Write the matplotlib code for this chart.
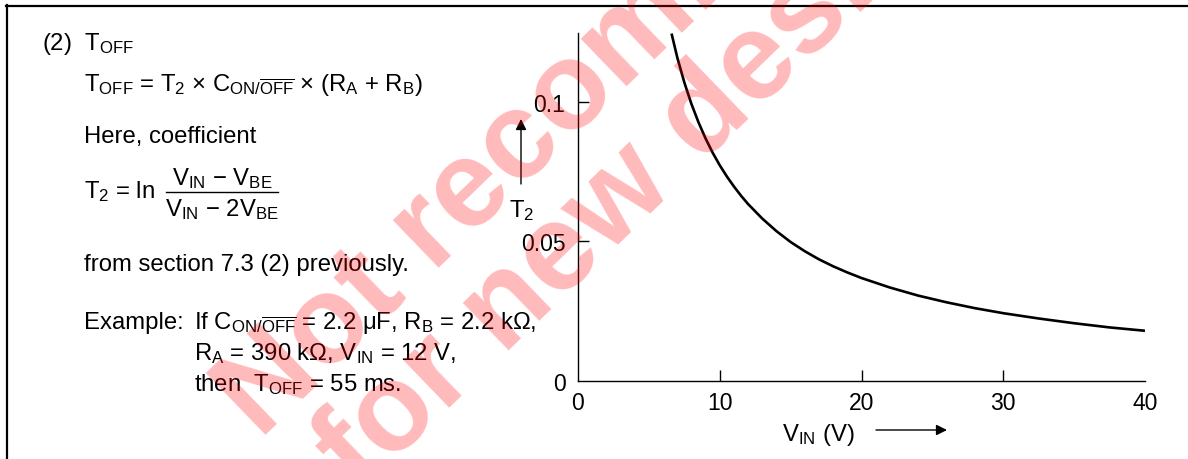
import matplotlib
matplotlib.use('Agg')
from matplotlib import pyplot as plt
from matplotlib.lines import Line2D

plt.rcParams['font.family'] = ['Liberation Sans', 'DejaVu Sans']
plt.rcParams['mathtext.fontset'] = 'custom'
plt.rcParams['mathtext.rm'] = 'Liberation Sans'
plt.rcParams['mathtext.it'] = 'Liberation Sans:italic'
plt.rcParams['mathtext.bf'] = 'Liberation Sans:bold'

# T2 coefficient
v_in = [6.6, 7.0, 7.5, 8.0, 8.5, 9.0, 9.5, 10.0, 10.5, 11.0, 11.5, 12.0, 13.0,
        14.0, 15.0, 16.0, 17.0, 18.0, 19.0, 20.0, 22.0, 24.0, 26.0, 28.0, 30.0,
        32.5, 35.0, 37.5, 40.0]
t2 = [0.1245, 0.1160, 0.1070, 0.0993, 0.0927, 0.0869, 0.0818, 0.0773, 0.0733,
      0.0697, 0.0664, 0.0634, 0.0582, 0.0537, 0.0498, 0.0465, 0.0436, 0.0411,
      0.0389, 0.0369, 0.0335, 0.0306, 0.0282, 0.0261, 0.0243, 0.0224, 0.0207,
      0.0192, 0.0180]

x_ticks = [0, 10, 20, 30, 40]
x_ticklabels = ['0', '10', '20', '30', '40']
y_ticks = [0, 0.05, 0.1]
y_ticklabels = ['0', '0.05', '0.1']

W, H = 1188, 460
FS = 17.2


def fx(px):
    return px / W


def fy(py):
    return 1 - py / H


fig = plt.figure(figsize=(W / 100, H / 100), dpi=100)

# frame of the page
fig.add_artist(Line2D([fx(6), fx(W)], [fy(7), fy(7)], color='black', lw=1.6))
fig.add_artist(Line2D([fx(7), fx(7)], [fy(6), fy(H)], color='black', lw=1.6))

# left hand text
fig.text(fx(42), fy(50), r'(2)  T$_{\mathrm{OFF}}$', fontsize=FS, va='baseline')
fig.text(fx(84), fy(91),
         r'T$_{\mathrm{OFF}}$ = T$_{\mathrm{2}}$ × C$_{\mathrm{ON/}\overline{\mathrm{OFF}}}$'
         r' × (R$_{\mathrm{A}}$ + R$_{\mathrm{B}}$)', fontsize=FS, va='baseline')
fig.text(fx(84), fy(143), 'Here, coefficient', fontsize=FS, va='baseline')
fig.text(fx(84), fy(198), r'T$_{\mathrm{2}}$ = ln', fontsize=FS, va='baseline')
fig.text(fx(222), fy(185), r'V$_{\mathrm{IN}}$ − V$_{\mathrm{BE}}$', fontsize=FS,
         va='baseline', ha='center')
fig.add_artist(Line2D([fx(166), fx(278)], [fy(193), fy(193)], color='black', lw=1.0))
fig.text(fx(222), fy(216), r'V$_{\mathrm{IN}}$ − 2V$_{\mathrm{BE}}$', fontsize=FS,
         va='baseline', ha='center')
fig.text(fx(84), fy(271), 'from section 7.3 (2) previously.', fontsize=FS, va='baseline')
fig.text(fx(84), fy(329), 'Example:', fontsize=FS, va='baseline')
fig.text(fx(194), fy(329),
         r'If C$_{\mathrm{ON/}\overline{\mathrm{OFF}}}$ = 2.2 μF, R$_{\mathrm{B}}$ = 2.2 kΩ,',
         fontsize=FS, va='baseline')
fig.text(fx(194), fy(360), r'R$_{\mathrm{A}}$ = 390 kΩ, V$_{\mathrm{IN}}$ = 12 V,',
         fontsize=FS, va='baseline')
fig.text(fx(194), fy(391), r'then  T$_{\mathrm{OFF}}$ = 55 ms.', fontsize=FS, va='baseline')

# chart
ax = fig.add_axes([fx(578), fy(382), fx(1145) - fx(578), fy(34) - fy(382)])
ax.plot(v_in, t2, color='black', lw=1.9, solid_capstyle='butt', solid_joinstyle='round')
ax.set_xlim(0, 40)
ax.set_ylim(0, 0.1247)
ax.set_xticks(x_ticks)
ax.set_xticklabels(x_ticklabels)
ax.set_yticks(y_ticks)
ax.set_yticklabels(y_ticklabels)
for s in ['top', 'right']:
    ax.spines[s].set_visible(False)
for s in ['left', 'bottom']:
    ax.spines[s].set_linewidth(1.0)
ax.tick_params(axis='both', direction='in', length=8, width=1.0, labelsize=16.5)
ax.tick_params(axis='x', pad=7)
ax.tick_params(axis='y', pad=9)
ax.xaxis.get_major_ticks()[0].tick1line.set_visible(False)
ax.xaxis.get_major_ticks()[-1].tick1line.set_visible(False)
ax.yaxis.get_major_ticks()[0].tick1line.set_visible(False)
ax.patch.set_alpha(0)

# axis labels with arrows
fig.text(fx(522), fy(217), r'T$_{\mathrm{2}}$', fontsize=FS, va='baseline', ha='center')
fig.add_artist(plt.Annotation('', xy=(fx(521), fy(120)), xytext=(fx(521), fy(185)),
                              xycoords='figure fraction', textcoords='figure fraction',
                              arrowprops=dict(arrowstyle='-|>', color='black', lw=1.0,
                                              mutation_scale=16, shrinkA=0, shrinkB=0)))
fig.text(fx(782), fy(441), r'V$_{\mathrm{IN}}$ (V)', fontsize=FS, va='baseline')
fig.add_artist(plt.Annotation('', xy=(fx(947), fy(431)), xytext=(fx(876), fy(431)),
                              xycoords='figure fraction', textcoords='figure fraction',
                              arrowprops=dict(arrowstyle='-|>', color='black', lw=1.0,
                                              mutation_scale=16, shrinkA=0, shrinkB=0)))

# watermark
fig.text(fx(628), fy(40), 'Not recommended', fontsize=89, fontweight='bold',
         color='red', alpha=0.27, rotation=44, ha='center', va='center',
         rotation_mode='anchor', zorder=10)
fig.text(fx(652), fy(168), 'for new design', fontsize=89, fontweight='bold',
         color='red', alpha=0.27, rotation=44, ha='center', va='center',
         rotation_mode='anchor', zorder=10)

fig.savefig('out.png', dpi=100)
